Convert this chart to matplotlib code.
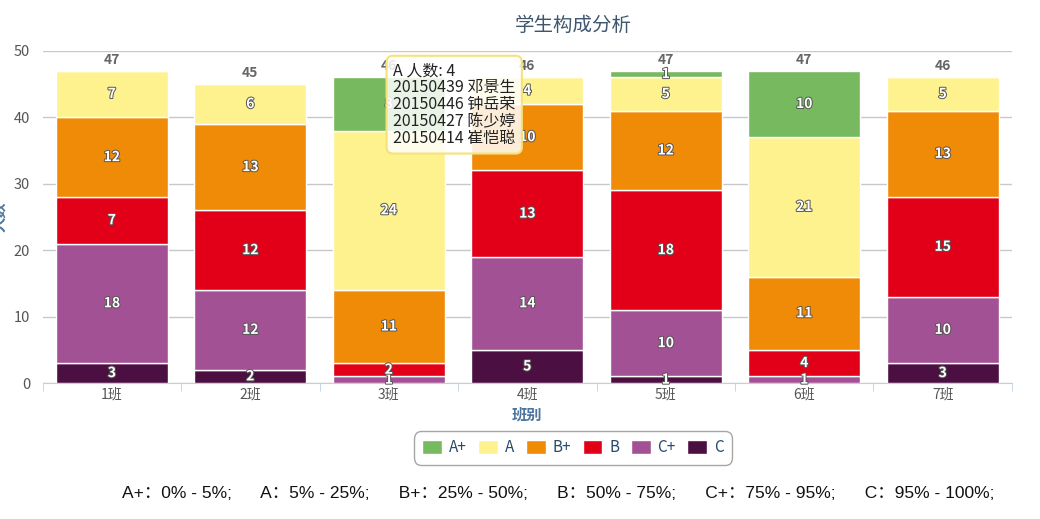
import matplotlib
matplotlib.use('Agg')
import matplotlib.pyplot as plt
import matplotlib.patheffects as pe
import numpy as np

plt.rcParams['font.family'] = ['Noto Sans CJK SC', 'DejaVu Sans']

# data
classes = ['1班', '2班', '3班', '4班', '5班', '6班', '7班']
grades = ['C', 'C+', 'B', 'B+', 'A', 'A+']
counts = {
    'C':  [3, 2, 0, 5, 1, 0, 3],
    'C+': [18, 12, 1, 14, 10, 1, 10],
    'B':  [7, 12, 2, 13, 18, 4, 15],
    'B+': [12, 13, 11, 10, 12, 11, 13],
    'A':  [7, 6, 24, 4, 5, 21, 5],
    'A+': [0, 0, 8, 0, 1, 10, 0],
}
colors = {
    'A+': '#76b95e',
    'A': '#fdf28e',
    'B+': '#f08b08',
    'B': '#e20019',
    'C+': '#a35195',
    'C': '#4c0f41',
}
legend_order = ['A+', 'A', 'B+', 'B', 'C+', 'C']
tooltip_lines = ['A 人数: 4', '20150439 邓景生', '20150446 钟岳荣',
                 '20150427 陈少婷', '20150414 崔恺聪']
ranges_text = ('A+：0% - 5%;      A：5% - 25%;      B+：25% - 50%;      '
               'B：50% - 75%;      C+：75% - 95%;      C：95% - 100%;')

fig = plt.figure(figsize=(10.4, 5.19), dpi=100)
ax = fig.add_axes([0.041, 0.262, 0.932, 0.64])

x = np.arange(len(classes))
bottom = np.zeros(len(classes))
outline = [pe.withStroke(linewidth=1.4, foreground='#555555')]
for g in grades:
    vals = np.array(counts[g])
    ax.bar(x, vals, width=0.81, bottom=bottom, color=colors[g],
           edgecolor='white', linewidth=1, zorder=3, label=g)
    for i, v in enumerate(vals):
        if v > 0:
            ax.text(x[i], bottom[i] + v / 2, str(v), ha='center', va='center',
                    color='white', fontsize=10, fontweight='semibold',
                    path_effects=outline, zorder=5)
    bottom += vals

for i, t in enumerate(bottom):
    ax.text(x[i], t + 0.6, str(int(t)), ha='center', va='bottom',
            color='#666666', fontsize=10, fontweight='bold', zorder=5)

ax.set_xlim(-0.5, len(classes) - 0.5)
ax.set_ylim(0, 50)
ax.set_yticks(range(0, 51, 10))
ax.set_xticks(x)
ax.set_xticklabels(classes)
ax.set_xticks(np.arange(-0.5, len(classes)), minor=True)
ax.tick_params(axis='x', which='major', length=0, labelsize=10,
               labelcolor='#555555', pad=3)
ax.tick_params(axis='x', which='minor', length=6, color='#c0d0e0')
ax.tick_params(axis='y', length=0, labelsize=10.5, labelcolor='#555555', pad=9)
ax.grid(axis='y', color='#c8c8c8', linewidth=1, zorder=0)
for s in ['top', 'right', 'left']:
    ax.spines[s].set_visible(False)
ax.spines['bottom'].set_color('#c0d0e0')

ax.set_xlabel('班别', color='#4d759e', fontsize=11, fontweight='bold', labelpad=4)
ax.set_ylabel('人数', color='#4d759e', fontsize=11, fontweight='bold')
ax.yaxis.set_label_coords(-0.037, 0.5)
ax.set_title('学生构成分析', color='#3e576f', fontsize=14, pad=14, x=0.548)

handles, labels = ax.get_legend_handles_labels()
hmap = dict(zip(labels, handles))
leg = fig.legend([hmap[g] for g in legend_order], legend_order,
                 loc='center', bbox_to_anchor=(0.551, 0.137), ncol=6,
                 frameon=True, fontsize=11, handlelength=1.3, handleheight=1.0,
                 columnspacing=0.75, handletextpad=0.45, borderpad=0.35)
leg.get_frame().set_edgecolor('#909090')
leg.get_frame().set_linewidth(1)
leg.get_frame().set_boxstyle('round,pad=0.2,rounding_size=0.5')
for t in leg.get_texts():
    t.set_color('#274b6d')

ax.text(2.03, 48.3, '\n'.join(tooltip_lines), ha='left', va='top',
        fontsize=11.5, color='#222222', linespacing=1.0, zorder=10,
        bbox=dict(boxstyle='round,pad=0.4,rounding_size=0.4',
                  facecolor=(1, 1, 1, 0.85), edgecolor='#f5e27a', linewidth=1.5))

fig.text(0.117, 0.05, ranges_text, ha='left', va='center', fontsize=12.5,
         color='#111111', family=['Liberation Sans', 'Noto Sans CJK SC'])

fig.savefig('out.png', dpi=100)
